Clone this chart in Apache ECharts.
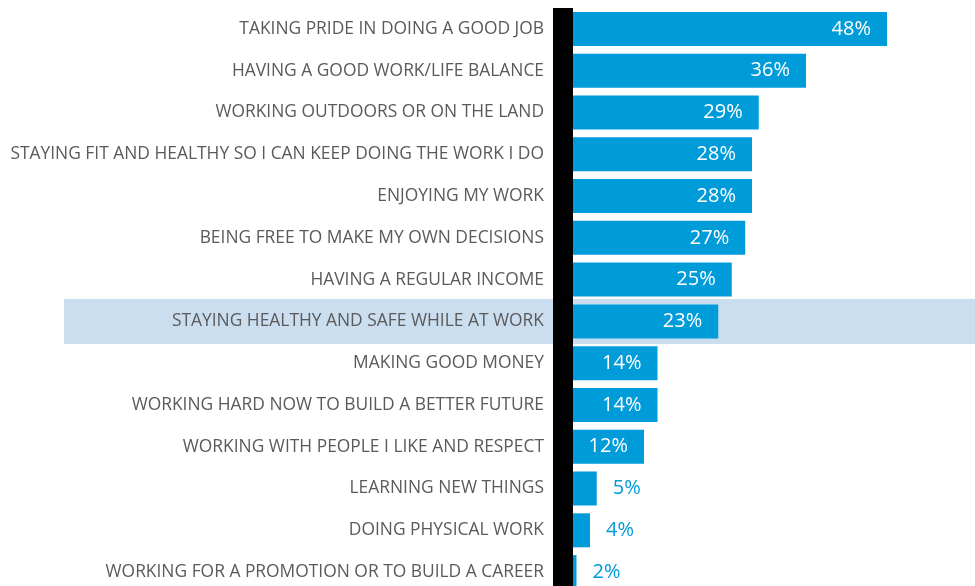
<!DOCTYPE html>
<html>
<head>
  <meta charset="utf-8">
  <title>chart</title>
  <script src="https://cdn.jsdelivr.net/npm/echarts@6/dist/echarts.min.js"></script>
  <style>
    html, body { margin: 0; padding: 0; background: #fff; overflow: hidden; }
  </style>
</head>
<body>
  <!-- a bit taller than the window so the last row is not squeezed -->
  <div id="chart" style="width: 975px; height: 600px;"></div>
  <script>
    var categories = [
      'TAKING PRIDE IN DOING A GOOD JOB',
      'HAVING A GOOD WORK/LIFE BALANCE',
      'WORKING OUTDOORS OR ON THE LAND',
      'STAYING FIT AND HEALTHY SO I CAN KEEP DOING THE WORK I DO',
      'ENJOYING MY WORK',
      'BEING FREE TO MAKE MY OWN DECISIONS',
      'HAVING A REGULAR INCOME',
      'STAYING HEALTHY AND SAFE WHILE AT WORK',
      'MAKING GOOD MONEY',
      'WORKING HARD NOW TO BUILD A BETTER FUTURE',
      'WORKING WITH PEOPLE I LIKE AND RESPECT',
      'LEARNING NEW THINGS',
      'DOING PHYSICAL WORK',
      'WORKING FOR A PROMOTION OR TO BUILD A CAREER'
    ];
    var values = [48, 36, 29, 28, 28, 27, 25, 23, 14, 14, 12, 5, 4, 2];
    var highlighted = 'STAYING HEALTHY AND SAFE WHILE AT WORK';

    var blue = '#009bd9';

    var chart = echarts.init(document.getElementById('chart'));

    // small values get their label outside the bar, in blue
    var barData = values.map(function (v) {
      if (v < 10) {
        return { value: v, label: { position: 'right', distance: 16, color: blue } };
      }
      return v;
    });

    var option = {
      animation: false,
      grid: { left: 563, top: 8, height: 585, width: 405 },
      xAxis: {
        type: 'value',
        min: 0,
        max: 60,
        show: false
      },
      yAxis: {
        type: 'category',
        inverse: true,
        data: categories,
        axisTick: { show: false },
        axisLine: { show: true, lineStyle: { color: '#000', width: 20, cap: 'butt' } },
        axisLabel: {
          margin: 19,
          color: '#5a5a5a',
          fontSize: 17.4,
          fontFamily: 'Open Sans'
        },
        z: 5
      },
      series: [
        {
          type: 'bar',
          data: barData,
          barWidth: 34,
          itemStyle: { color: blue },
          label: {
            show: true,
            position: 'insideRight',
            distance: 16,
            color: '#fff',
            fontSize: 20,
            fontFamily: 'Open Sans',
            formatter: '{c}%'
          }
        }
      ]
    };
    chart.setOption(option);

    // light band behind the highlighted row
    var yc = chart.convertToPixel({ yAxisIndex: 0 }, highlighted);
    chart.setOption({
      graphic: [{
        type: 'rect',
        z: -10,
        shape: { x: 64, y: yc - 22.5, width: 975 - 64, height: 45 },
        style: { fill: '#cbdef0' }
      }]
    });
  </script>
</body>
</html>
